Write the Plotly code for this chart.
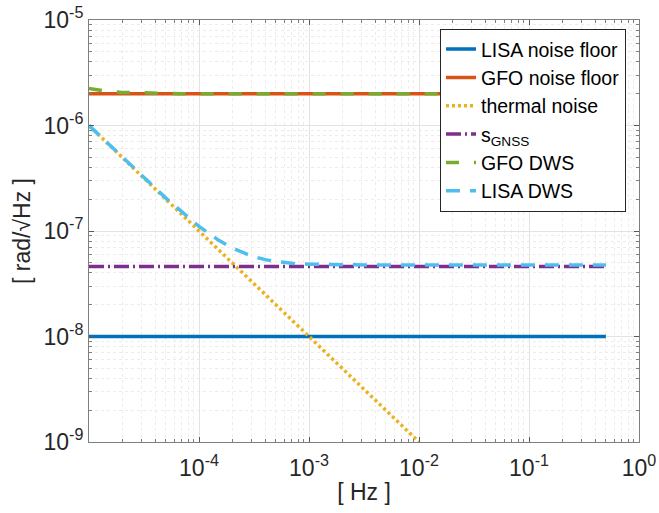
import plotly.graph_objects as go

# ---- data ----
f_floor = [1e-5, 0.5]
lisa_floor = [1e-8, 1e-8]
gfo_floor = [2e-6, 2e-6]

f_thermal = [1e-5, 1e-2]
thermal = [1e-6, 1e-9]

s_gnss = [4.6e-8, 4.6e-8]

f_dws = [1e-5, 1.5e-5, 2e-5, 3e-5, 5e-5, 7e-5, 1e-4, 1.5e-4, 2e-4, 3e-4,
         4e-4, 5e-4, 7e-4, 1e-3, 1.5e-3, 2e-3, 5e-3, 1e-2, 1e-1, 0.5]
gfo_dws = [2.24e-6, 2.1e-6, 2.06e-6, 2.03e-6, 2.01e-6, 2.005e-6, 2.0e-6, 2.0e-6, 2.0e-6, 2.0e-6,
           2.0e-6, 2.0e-6, 2.0e-6, 2.0e-6, 2.0e-6, 2.0e-6, 2.0e-6, 2.0e-6, 2.0e-6, 2.0e-6]
lisa_dws = [1.0e-6, 6.68e-7, 5.02e-7, 3.36e-7, 2.05e-7, 1.52e-7, 1.105e-7, 8.2e-8, 6.9e-8, 5.8e-8,
            5.35e-8, 5.15e-8, 4.95e-8, 4.85e-8, 4.8e-8, 4.78e-8, 4.76e-8, 4.75e-8, 4.75e-8, 4.75e-8]

x_major = [1e-4, 1e-3, 1e-2, 1e-1, 1e0]
x_major_text = ["10<sup>-4</sup>", "10<sup>-3</sup>", "10<sup>-2</sup>", "10<sup>-1</sup>", "10<sup>0</sup>"]
y_major = [1e-9, 1e-8, 1e-7, 1e-6, 1e-5]
y_major_text = ["10<sup>-9</sup>", "10<sup>-8</sup>", "10<sup>-7</sup>", "10<sup>-6</sup>", "10<sup>-5</sup>"]

x_minor = [m * 10.0 ** e for e in range(-5, 0) for m in range(2, 10)]
y_minor = [m * 10.0 ** e for e in range(-9, -5) for m in range(2, 10)]

FONT = "Liberation Sans, Arial, Helvetica, sans-serif"
LW = 3.5

fig = go.Figure()
fig.add_trace(go.Scatter(x=f_floor, y=lisa_floor, mode="lines", name="LISA noise floor",
                         line=dict(color="#0072BD", width=LW)))
fig.add_trace(go.Scatter(x=f_floor, y=gfo_floor, mode="lines", name="GFO noise floor",
                         line=dict(color="#D95319", width=LW)))
fig.add_trace(go.Scatter(x=f_thermal, y=thermal, mode="lines", name="thermal noise",
                         line=dict(color="#EDB120", width=LW, dash="3px,3px")))
fig.add_trace(go.Scatter(x=f_floor, y=s_gnss, mode="lines", name="s<sub>GNSS</sub>",
                         line=dict(color="#7E2F8E", width=LW, dash="15px,4px,2px,4px")))
fig.add_trace(go.Scatter(x=f_dws, y=gfo_dws, mode="lines", name="GFO DWS",
                         line=dict(color="#77AC30", width=LW, dash="13px,15px")))
fig.add_trace(go.Scatter(x=f_dws, y=lisa_dws, mode="lines", name="LISA DWS",
                         line=dict(color="#4DBEEE", width=LW, dash="14px,10px")))

axis_common = dict(
    type="log", showline=True, linecolor="#7f7f7f", linewidth=1, mirror="allticks",
    ticks="inside", ticklen=5, tickcolor="#5a5a5a", tickwidth=1, automargin=False,
    showgrid=True, gridcolor="#e3e3e3", gridwidth=1, zeroline=False,
    tickfont=dict(family=FONT, size=23, color="#262626"),
)

fig.update_xaxes(**axis_common, range=[-5, 0], tickmode="array", tickvals=x_major,
                 ticktext=x_major_text, ticklabelstandoff=5,
                 minor=dict(tickmode="array", tickvals=x_minor, ticks="inside", ticklen=3,
                            tickcolor="#7f7f7f", showgrid=True, gridcolor="#ececec",
                            griddash="dot", gridwidth=1),
                 title=dict(text="[ Hz ]", font=dict(family=FONT, size=23, color="#262626"),
                            standoff=4))
fig.update_yaxes(**axis_common, range=[-9, -5], tickmode="array", tickvals=y_major,
                 ticktext=y_major_text,
                 minor=dict(tickmode="array", tickvals=y_minor, ticks="inside", ticklen=3,
                            tickcolor="#7f7f7f", showgrid=True, gridcolor="#ececec",
                            griddash="dot", gridwidth=1),
                 title=dict(text="[ rad/√Hz ]", font=dict(family=FONT, size=23, color="#262626"),
                            standoff=6))

fig.update_layout(
    width=659, height=513,
    margin=dict(l=89, r=20, t=20, b=71),
    paper_bgcolor="white", plot_bgcolor="white",
    font=dict(family=FONT, size=19, color="#262626"),
    showlegend=True,
    legend=dict(x=0.6382, y=0.979, xanchor="left", yanchor="top",
                bgcolor="white", bordercolor="#262626", borderwidth=1,
                font=dict(family=FONT, size=19.5, color="#000000"),
                tracegroupgap=0, itemwidth=30),
)

fig.write_html("out.html")
